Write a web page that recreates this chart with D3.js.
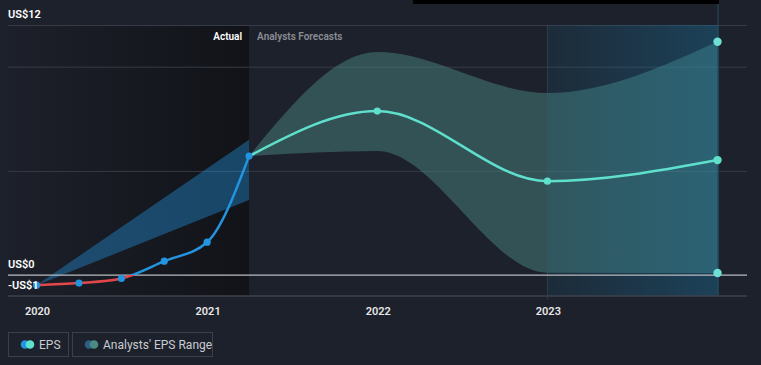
<!DOCTYPE html>
<html>
<head>
<meta charset="utf-8">
<script src="https://cdn.jsdelivr.net/npm/d3@7"></script>
<style>
  body { margin: 0; background: #1d212b; }
  svg { display: block; font-family: Roboto, "Liberation Sans", sans-serif; }
</style>
</head>
<body>
<svg id="chart" width="761" height="365"></svg>
<script>
// ---- data ----
const actualDates = ["2019-12-31", "2020-03-31", "2020-06-30", "2020-09-30", "2020-12-31", "2021-03-31"];
const actualEps = [-0.48, -0.38, -0.16, 0.67, 1.58, 5.71];

const forecastDates = ["2021-03-31", "2021-12-31", "2022-12-31", "2023-12-31"];
const forecastEps = [5.71, 7.87, 4.51, 5.52];
const forecastHigh = [5.71, 10.7, 8.74, 11.2];
const forecastLow = [5.71, 5.95, 0.12, 0.1];

// past analyst range wedge
const pastRangeDates = ["2019-12-31", "2021-03-31"];
const pastRangeHigh = [-0.48, 6.5];
const pastRangeLow = [-0.48, 3.6];

const yearTicks = ["2020", "2021", "2022", "2023"];
const gridValues = [12, 10, 5];
const yLabels = [{ v: 12, t: "US$12" }, { v: 0, t: "US$0" }, { v: -0.48, t: "-US$1" }];

const parse = d3.timeParse("%Y-%m-%d");
const svg = d3.select("#chart");

const plotL = 8, plotR = 747, plotT = 25, plotB = 296;

const x = d3.scaleTime()
  .domain([new Date(2020, 0, 1), new Date(2024, 0, 1)])
  .range([37, 718]);
const y = d3.scaleLinear().domain([-1, 12]).range([plotB, plotT]);

const defs = svg.append("defs");

// actual region background
const gAct = defs.append("linearGradient").attr("id", "actBg");
gAct.append("stop").attr("offset", "0%").attr("stop-color", "#1d202a");
gAct.append("stop").attr("offset", "100%").attr("stop-color", "#111318");

const xSplit = x(parse(actualDates[actualDates.length - 1]));
svg.append("rect")
  .attr("x", plotL).attr("y", plotT)
  .attr("width", xSplit - plotL).attr("height", plotB - plotT)
  .attr("fill", "url(#actBg)");

// gridlines
svg.append("g")
  .attr("transform", `translate(${plotL},0)`)
  .call(d3.axisLeft(y).tickValues(gridValues).tickSize(-(plotR - plotL)).tickFormat(""))
  .call(g => g.select(".domain").remove())
  .call(g => g.selectAll("line").attr("stroke", "#353a45").attr("stroke-width", 1));

// past range wedge
const pastRange = pastRangeDates.map((d, i) => ({ d: parse(d), hi: pastRangeHigh[i], lo: pastRangeLow[i] }));
svg.append("path")
  .datum(pastRange)
  .attr("fill", "#2394df")
  .attr("fill-opacity", 0.4)
  .attr("d", d3.area().x(d => x(d.d)).y0(d => y(d.lo)).y1(d => y(d.hi)));

// forecast range
const fc = forecastDates.map((d, i) => ({ d: parse(d), v: forecastEps[i], hi: forecastHigh[i], lo: forecastLow[i] }));
svg.append("path")
  .datum(fc)
  .attr("fill", "#4f8f8a")
  .attr("fill-opacity", 0.45)
  .attr("d", d3.area().curve(d3.curveMonotoneX).x(d => x(d.d)).y0(d => y(d.lo)).y1(d => y(d.hi)));

// highlighted last forecast year (drawn over the range)
const gHi = defs.append("linearGradient").attr("id", "hiBg");
gHi.append("stop").attr("offset", "0%").attr("stop-color", "#1a86b8").attr("stop-opacity", 0.1);
gHi.append("stop").attr("offset", "100%").attr("stop-color", "#1a86b8").attr("stop-opacity", 0.32);
const xHi0 = x(parse(forecastDates[2])), xHi1 = x(parse(forecastDates[3]));
svg.append("rect")
  .attr("x", xHi0).attr("y", plotT)
  .attr("width", xHi1 - xHi0 + 1).attr("height", plotB - plotT)
  .attr("fill", "url(#hiBg)");

// vertical markers
svg.append("line")
  .attr("x1", xHi0).attr("x2", xHi0).attr("y1", plotT).attr("y2", plotB + 4)
  .attr("stroke", "#3a5a66").attr("stroke-opacity", 0.45);
svg.append("line")
  .attr("x1", xHi1 + 0.5).attr("x2", xHi1 + 0.5).attr("y1", 0).attr("y2", plotB)
  .attr("stroke", "#28505f");

// tooltip remnant at the top
svg.append("rect").attr("x", 413).attr("y", 0).attr("width", 306).attr("height", 4).attr("fill", "#000");

// zero line and bottom axis line
svg.append("line")
  .attr("x1", plotL).attr("x2", plotR).attr("y1", y(0)).attr("y2", y(0))
  .attr("stroke", "#b9bcc2").attr("stroke-width", 1.3);
svg.append("line")
  .attr("x1", plotL).attr("x2", plotR).attr("y1", plotB).attr("y2", plotB)
  .attr("stroke", "#3d424d").attr("stroke-width", 1.3);

// EPS line, red below zero
const gEps = defs.append("linearGradient").attr("id", "epsStroke")
  .attr("gradientUnits", "userSpaceOnUse")
  .attr("x1", 0).attr("x2", 0).attr("y1", y(0) - 0.01).attr("y2", y(0) + 0.01);
gEps.append("stop").attr("offset", "0%").attr("stop-color", "#2394df");
gEps.append("stop").attr("offset", "50%").attr("stop-color", "#2394df");
gEps.append("stop").attr("offset", "50%").attr("stop-color", "#e2474b");
gEps.append("stop").attr("offset", "100%").attr("stop-color", "#e2474b");

const act = actualDates.map((d, i) => ({ d: parse(d), v: actualEps[i] }));
const line = d3.line().curve(d3.curveMonotoneX).x(d => x(d.d)).y(d => y(d.v));

svg.append("path")
  .datum(fc)
  .attr("fill", "none")
  .attr("stroke", "#5fe0cc")
  .attr("stroke-width", 2.5)
  .attr("d", line);

svg.append("path")
  .datum(act)
  .attr("fill", "none")
  .attr("stroke", "url(#epsStroke)")
  .attr("stroke-width", 2.5)
  .attr("d", line);

svg.selectAll(".act-dot")
  .data(act)
  .enter().append("circle")
  .attr("cx", d => x(d.d)).attr("cy", d => y(d.v))
  .attr("r", 3.6)
  .attr("fill", "#2394df");

svg.selectAll(".fc-dot")
  .data(fc.slice(1))
  .enter().append("circle")
  .attr("cx", d => x(d.d)).attr("cy", d => y(d.v))
  .attr("r", (d, i) => i === 2 ? 4.2 : 3.6)
  .attr("fill", "#5fe0cc");

const last = fc[fc.length - 1];
svg.selectAll(".rng-dot")
  .data([last.hi, last.lo])
  .enter().append("circle")
  .attr("cx", x(last.d)).attr("cy", d => y(d))
  .attr("r", 4.2)
  .attr("fill", "#6fe0d6");

// region labels
svg.append("text")
  .attr("x", xSplit - 7).attr("y", 40)
  .attr("text-anchor", "end")
  .attr("fill", "#ffffff").attr("font-size", 10).attr("font-weight", 600)
  .text("Actual");
svg.append("text")
  .attr("x", xSplit + 8).attr("y", 40)
  .attr("fill", "#8a8d94").attr("font-size", 10).attr("font-weight", 600)
  .text("Analysts Forecasts");

// y labels
svg.selectAll(".ylab")
  .data(yLabels)
  .enter().append("text")
  .attr("x", plotL)
  .attr("y", d => d.v === 12 ? y(d.v) - 7 : d.v === 0 ? y(d.v) - 7 : y(d.v) + 4)
  .attr("fill", "#ffffff").attr("font-size", 11).attr("font-weight", 600)
  .text(d => d.t);

// x axis labels
svg.append("g")
  .attr("transform", `translate(0,${plotB})`)
  .call(d3.axisBottom(x).tickValues(yearTicks.map(t => new Date(+t, 0, 1))).tickSize(0).tickPadding(11).tickFormat(d3.timeFormat("%Y")))
  .call(g => g.select(".domain").remove())
  .call(g => g.selectAll("text")
    .attr("fill", "#e6e6e6").attr("font-size", 11).attr("font-weight", 600)
    .attr("font-family", "Roboto, sans-serif"));

// legend
const legendItems = [
  { label: "EPS", c1: "#2394df", c2: "#5fe0cc", w: 60 },
  { label: "Analysts' EPS Range", c1: "#2b5f88", c2: "#4a8a84", w: 140 }
];
let lx = 8;
legendItems.forEach(it => {
  const g = svg.append("g").attr("transform", `translate(${lx},332)`);
  g.append("rect").attr("x", 0.5).attr("y", 0.5).attr("width", it.w).attr("height", 24)
    .attr("fill", "none").attr("stroke", "#3a3f4b");
  g.append("circle").attr("cx", 17).attr("cy", 12.5).attr("r", 4.3).attr("fill", it.c1);
  g.append("circle").attr("cx", 22).attr("cy", 12.5).attr("r", 4.3).attr("fill", it.c2);
  g.append("text").attr("x", 31).attr("y", 16.5)
    .attr("fill", "#c9ccd2").attr("font-size", 12)
    .text(it.label);
  lx += it.w + 4;
});
</script>
</body>
</html>
